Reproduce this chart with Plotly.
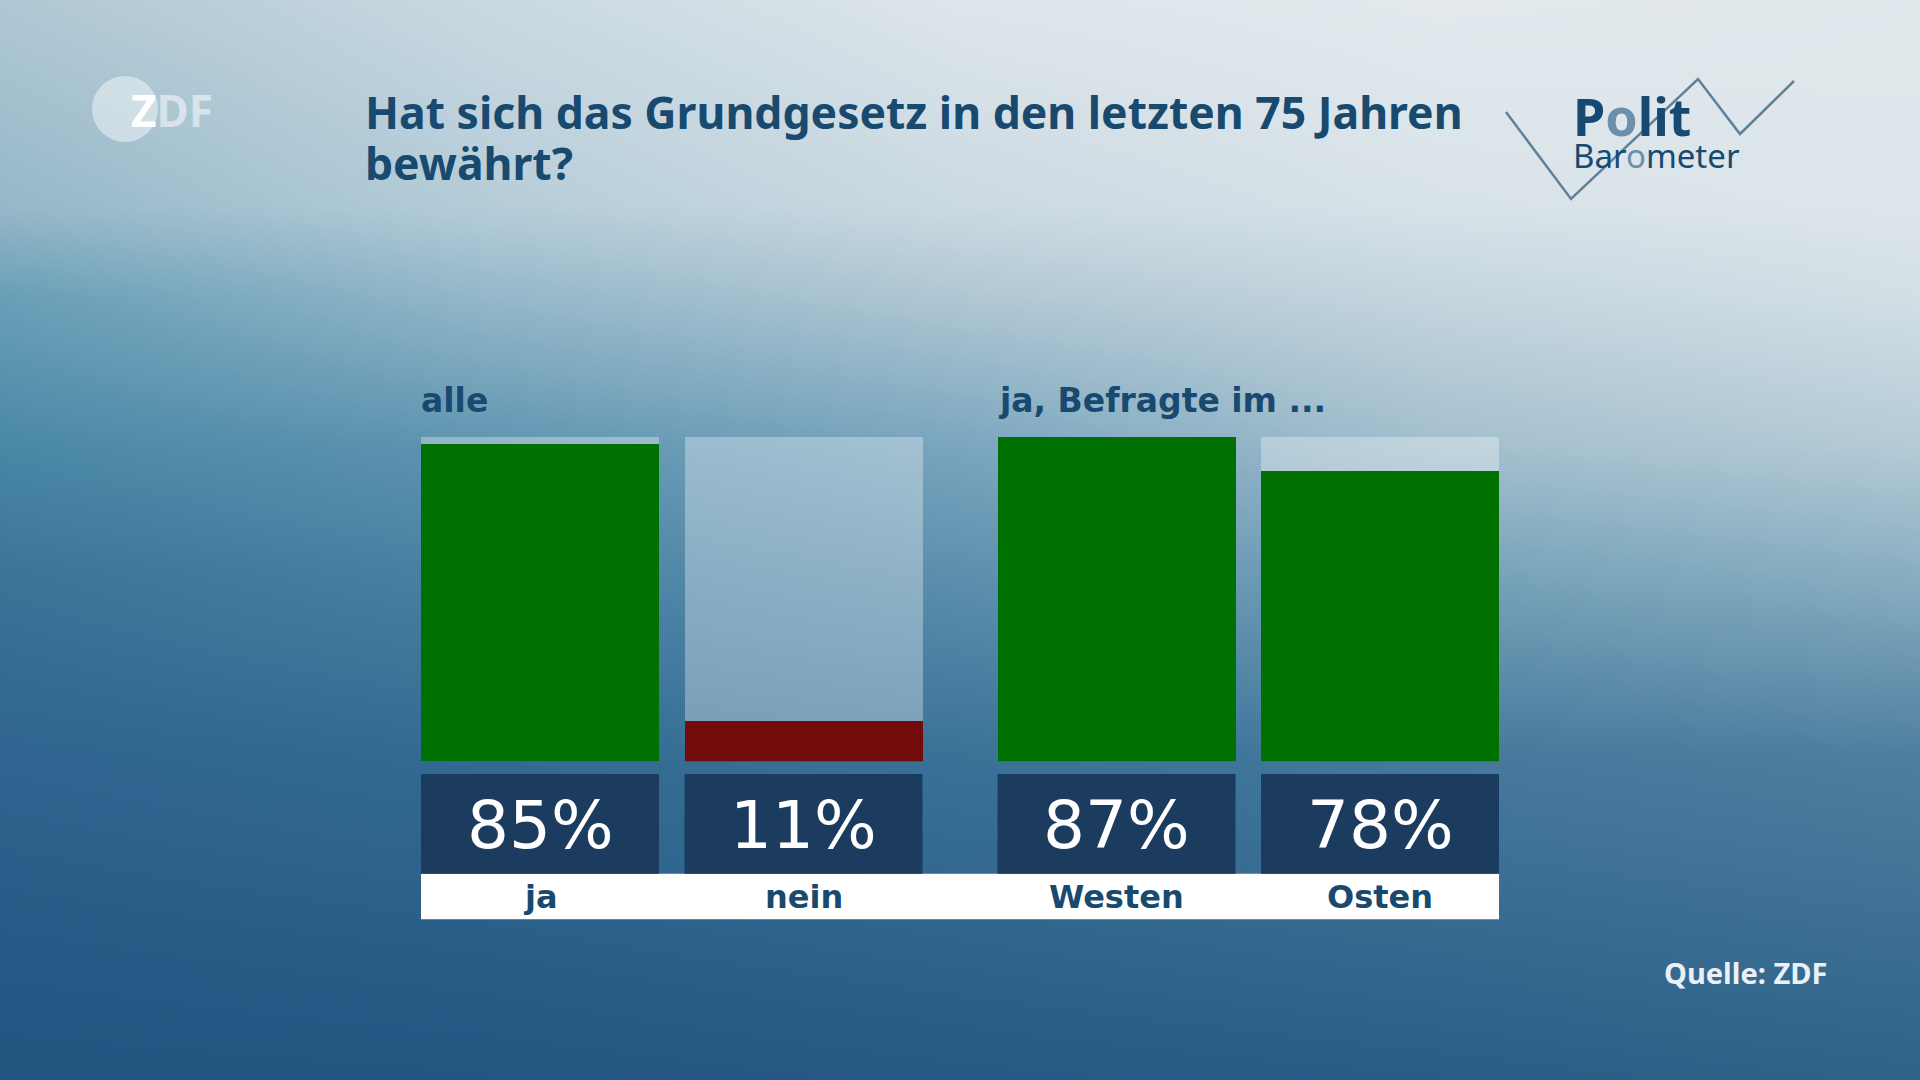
import base64
import struct
import zlib

import numpy as np
import plotly.graph_objects as go

# ---------------- data ----------------
title_lines = ["Hat sich das Grundgesetz in den letzten 75 Jahren", "bewährt?"]
group_titles = ["alle", "ja, Befragte im ..."]
categories = ["ja", "nein", "Westen", "Osten"]
groups = [0, 0, 1, 1]
values = [85, 11, 87, 78]
value_labels = ["85%", "11%", "87%", "78%"]
bar_colors = ["#007000", "#720c0c", "#007000", "#007000"]
source_text = "Quelle: ZDF"

# ---------------- layout constants (pixels) ----------------
W, H = 1920, 1080
BAR_W = 238
GROUP_LEFT = [421, 997.5]
STEP = 263.5
BAR_BOTTOM = 761.6
BAR_TOP = 437.0
BOX_TOP, BOX_BOT = 774.0, 873.7
STRIP_BOT = 919.3
TITLE_BLUE = "#184a70"
BOX_BLUE = "#1b3c5f"
WIDE = "DejaVu Sans"


def px(x):
    return x / W


def py(y):
    return 1 - y / H


# ---------------- background gradient image ----------------
gx = [0, 480, 960, 1440, 1920]
gy = [0, 207, 295, 448, 575, 758, 1080]
grid_hex = [
    ["#b0c8d4", "#cad9e1", "#dde6eb", "#e4eaee", "#e1e8ec"],
    ["#96b8c9", "#b5cdd9", "#ccdae2", "#d8e3e9", "#dde6eb"],
    ["#6aa0b8", "#95b8ca", "#b1c8d4", "#c6d6df", "#d4e0e6"],
    ["#4a88a6", "#5f95b1", "#7aa6bf", "#a3bfce", "#b5cbd7"],
    ["#3c7499", "#4a82a4", "#5e90ae", "#76a3b9", "#8aafc2"],
    ["#2f6590", "#336b93", "#3a7298", "#46799d", "#4f7fa0"],
    ["#225480", "#245682", "#275a84", "#2b5e87", "#2f6389"],
]


def hex2rgb(h):
    h = h.lstrip("#")
    return [int(h[i:i + 2], 16) for i in (0, 2, 4)]


grid = np.array([[hex2rgb(c) for c in row] for row in grid_hex], dtype=float)
iw, ih = 480, 270
xs = np.linspace(0, W, iw)
ys = np.linspace(0, H, ih)
rows_x = np.zeros((len(gy), iw, 3))
for r in range(len(gy)):
    for c in range(3):
        rows_x[r, :, c] = np.interp(xs, gx, grid[r, :, c])
img = np.zeros((ih, iw, 3))
for i in range(iw):
    for c in range(3):
        img[:, i, c] = np.interp(ys, gy, rows_x[:, i, c])
img = np.clip(img, 0, 255).astype(np.uint8)


def to_png(arr):
    h, w, _ = arr.shape
    raw = b"".join(b"\x00" + arr[r].tobytes() for r in range(h))

    def chunk(tag, data):
        return (struct.pack(">I", len(data)) + tag + data
                + struct.pack(">I", zlib.crc32(tag + data) & 0xFFFFFFFF))

    return (b"\x89PNG\r\n\x1a\n"
            + chunk(b"IHDR", struct.pack(">IIBBBBB", w, h, 8, 2, 0, 0, 0))
            + chunk(b"IDAT", zlib.compress(raw, 9))
            + chunk(b"IEND", b""))


bg_uri = "data:image/png;base64," + base64.b64encode(to_png(img)).decode()

# ---------------- bars ----------------
idx_in_group = []
counter = {}
for g in groups:
    counter[g] = counter.get(g, -1) + 1
    idx_in_group.append(counter[g])
centers = [GROUP_LEFT[g] + k * STEP + BAR_W / 2 for g, k in zip(groups, idx_in_group)]
vmax = max(values)

fig = go.Figure()
fig.add_trace(go.Bar(
    x=centers, y=[vmax] * len(values), width=BAR_W,
    marker=dict(color="rgba(255,255,255,0.32)", line=dict(width=0)),
    hoverinfo="skip", showlegend=False,
))
fig.add_trace(go.Bar(
    x=centers, y=values, width=BAR_W,
    marker=dict(color=bar_colors, line=dict(width=0)),
    hoverinfo="skip", showlegend=False,
))

shapes = []
annotations = []

# value boxes and label strip
strip_left = centers[0] - BAR_W / 2
strip_right = centers[-1] + BAR_W / 2
shapes.append(dict(type="rect", xref="x", yref="paper",
                   x0=strip_left, x1=strip_right, y0=py(STRIP_BOT), y1=py(BOX_BOT),
                   fillcolor="white", line=dict(width=0), layer="above"))
for c, lab, cat in zip(centers, value_labels, categories):
    shapes.append(dict(type="rect", xref="x", yref="paper",
                       x0=c - BAR_W / 2, x1=c + BAR_W / 2, y0=py(BOX_BOT), y1=py(BOX_TOP),
                       fillcolor=BOX_BLUE, line=dict(width=0), layer="above"))
    annotations.append(dict(x=c, y=py(825), xref="x", yref="paper", text=lab,
                            showarrow=False, xanchor="center", yanchor="middle",
                            font=dict(family=WIDE, size=66, color="white")))
    annotations.append(dict(x=c, y=py(897), xref="x", yref="paper", text="<b>" + cat + "</b>",
                            showarrow=False, xanchor="center", yanchor="middle",
                            font=dict(family=WIDE, size=32, color=TITLE_BLUE)))

# group titles
for g, t in enumerate(group_titles):
    annotations.append(dict(x=GROUP_LEFT[g] - 2, y=py(401), xref="x", yref="paper",
                            text="<b>" + t + "</b>", showarrow=False,
                            xanchor="left", yanchor="middle",
                            font=dict(family=WIDE, size=33, color=TITLE_BLUE)))

# title (two lines)
for line, yc in zip(title_lines, [111.5, 163]):
    annotations.append(dict(x=px(363), y=py(yc), xref="paper", yref="paper",
                            text="<b>" + line + "</b>", showarrow=False, align="left",
                            xanchor="left", yanchor="middle",
                            font=dict(family="Noto Sans", size=44.5, color=TITLE_BLUE)))

# source
annotations.append(dict(x=px(1829), y=py(972), xref="paper", yref="paper",
                        text="<b>" + source_text + "</b>", showarrow=False,
                        xanchor="right", yanchor="middle",
                        font=dict(family="Noto Sans", size=29, color="#eaf0f6")))

# ZDF logo
shapes.append(dict(type="circle", xref="paper", yref="paper",
                   x0=px(92), x1=px(158), y0=py(142), y1=py(76),
                   fillcolor="rgba(255,255,255,0.45)", line=dict(width=0), layer="above"))
annotations.append(dict(x=px(129), y=py(110), xref="paper", yref="paper",
                        text="<b>Z<span style='color:rgba(255,255,255,0.55)'>DF</span></b>",
                        showarrow=False, xanchor="left", yanchor="middle",
                        font=dict(family="Noto Sans", size=44, color="white")))

# Politbarometer logo
pts = [(1506, 112), (1571, 199), (1698, 79), (1740, 134), (1794, 81)]
path = "M " + " L ".join(f"{px(a)},{py(b)}" for a, b in pts)
shapes.append(dict(type="path", xref="paper", yref="paper", path=path,
                   line=dict(color="#5f8099", width=2.5), layer="above"))
annotations.append(dict(x=px(1571), y=py(116), xref="paper", yref="paper",
                        text="<b>P<span style='color:#6d90aa'>o</span>lit</b>",
                        showarrow=False, xanchor="left", yanchor="middle",
                        font=dict(family="Noto Sans", size=52, color="#174a72")))
annotations.append(dict(x=px(1571), y=py(156), xref="paper", yref="paper",
                        text="Bar<span style='color:#6d90aa'>o</span>meter",
                        showarrow=False, xanchor="left", yanchor="middle",
                        font=dict(family="Noto Sans", size=33, color="#174a72")))

fig.update_layout(
    width=W, height=H,
    margin=dict(l=0, r=0, t=0, b=0),
    paper_bgcolor="#2f6389", plot_bgcolor="rgba(0,0,0,0)",
    barmode="overlay", bargap=0,
    xaxis=dict(range=[0, W], domain=[0, 1], visible=False, fixedrange=True),
    yaxis=dict(range=[0, vmax], domain=[py(BAR_BOTTOM), py(BAR_TOP)],
               visible=False, fixedrange=True),
    images=[dict(source=bg_uri, xref="paper", yref="paper", x=0, y=1,
                 sizex=1, sizey=1, sizing="stretch", xanchor="left", yanchor="top",
                 layer="below")],
    shapes=shapes, annotations=annotations,
    showlegend=False,
)

fig.write_html(
    "out.html",
    config={"displayModeBar": False},
    post_script="document.body.style.margin='0px';document.body.style.overflow='hidden';",
)
